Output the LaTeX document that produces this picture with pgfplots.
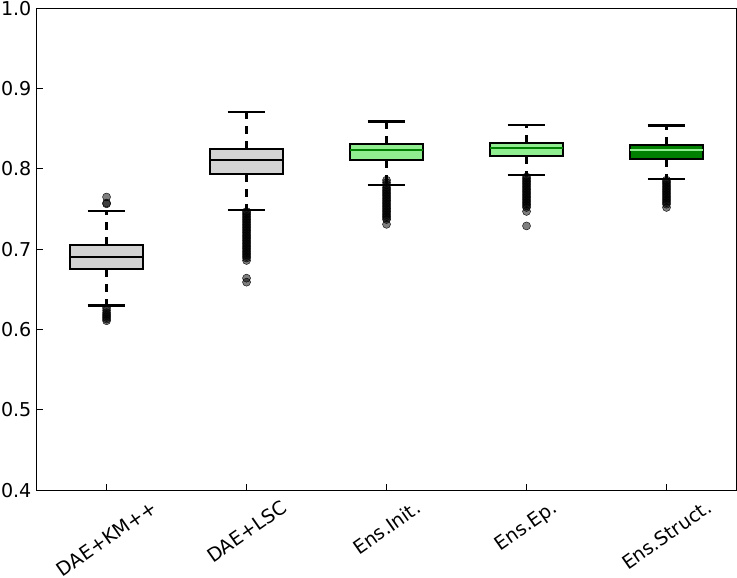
\documentclass[border=0pt]{standalone}
\usepackage{pgfplots}
\pgfplotsset{compat=1.18}
\usepgfplotslibrary{statistics}
\usepackage{graphicx}
\usepackage{fontspec}
\setmainfont{DejaVu Sans}
\definecolor{lgray}{RGB}{211,211,211}
\definecolor{lgreen}{RGB}{144,238,144}
\definecolor{dgreen}{RGB}{0,128,0}

\pgfplotsset{
  mybox/.style 2 args={
    boxplot/draw direction=y,
    boxplot/every box/.style={line width=2.2pt, fill=#1},
    boxplot/every median/.style={line width=2.2pt, #2},
    boxplot/draw/lower whisker/.code={%
      \draw[line width=2.2pt, dash pattern=on 8pt off 7pt]
        (boxplot cs:\pgfplotsboxplotvalue{lower quartile}) --
        (boxplot cs:\pgfplotsboxplotvalue{lower whisker});
      \draw[line width=2.2pt]
        (boxplot whisker cs:\pgfplotsboxplotvalue{lower whisker},0) --
        (boxplot whisker cs:\pgfplotsboxplotvalue{lower whisker},1);},
    boxplot/draw/upper whisker/.code={%
      \draw[line width=2.2pt, dash pattern=on 8pt off 7pt]
        (boxplot cs:\pgfplotsboxplotvalue{upper quartile}) --
        (boxplot cs:\pgfplotsboxplotvalue{upper whisker});
      \draw[line width=2.2pt]
        (boxplot whisker cs:\pgfplotsboxplotvalue{upper whisker},0) --
        (boxplot whisker cs:\pgfplotsboxplotvalue{upper whisker},1);},
    black, solid, mark=*, mark size=4pt,
    mark options={draw=none, fill=black, fill opacity=0.5},
    boxplot/box extend=0.52,
    boxplot/whisker extend=0.27,
  },
}

\begin{document}
\fontsize{19}{23}\selectfont
\begin{tikzpicture}
\begin{axis}[
  scale only axis, width=697pt, height=480pt,
  xmin=0.5, xmax=5.5, ymin=0.4, ymax=1.0,
  boxplot/draw direction=y,
  xtick={1,2,3,4,5},
  xticklabels={\rotatebox{35}{DAE+KM++}, \rotatebox{35}{DAE+LSC},
    \rotatebox{35}{Ens.Init.}, \rotatebox{35}{Ens.Ep.},
    \rotatebox{35}{Ens.Struct.}},
  xticklabel style={anchor=north, inner sep=0pt, yshift=-9pt},
  ytick={0.4,0.5,...,1.0},
  yticklabel style={/pgf/number format/.cd, fixed, fixed zerofill, precision=1,
    /tikz/.cd, inner sep=1pt, xshift=-4pt},
  /pgf/number format/assume math mode=true,
  tick align=inside, tick pos=left,
  major tick length=6pt,
  axis line style={line width=1pt},
  tick style={black, line width=0.8pt},
  clip=false,
]
% DAE+KM++
\addplot[mybox={lgray}{black},
  boxplot prepared={draw position=1, lower whisker=0.630, lower quartile=0.675,
    median=0.690, upper quartile=0.705, upper whisker=0.7475}]
  table[row sep=\\, y index=0] {v\\ 0.765\\ 0.7575\\ 0.7565\\ 0.627\\ 0.624\\
    0.621\\ 0.619\\ 0.617\\ 0.615\\ 0.613\\ 0.611\\};
% DAE+LSC
\addplot[mybox={lgray}{black},
  boxplot prepared={draw position=2, lower whisker=0.749, lower quartile=0.794,
    median=0.811, upper quartile=0.825, upper whisker=0.871}]
  table[row sep=\\, y index=0] {v\\ 0.747\\ 0.745\\ 0.743\\ 0.741\\ 0.739\\
    0.737\\ 0.735\\ 0.733\\ 0.731\\ 0.729\\ 0.727\\ 0.725\\ 0.723\\ 0.721\\
    0.719\\ 0.717\\ 0.715\\ 0.713\\ 0.711\\ 0.709\\ 0.707\\ 0.705\\ 0.703\\
    0.701\\ 0.699\\ 0.697\\ 0.695\\ 0.693\\ 0.691\\ 0.689\\ 0.686\\ 0.664\\
    0.659\\};
% Ens.Init.
\addplot[mybox={lgreen}{dgreen},
  boxplot prepared={draw position=3, lower whisker=0.780, lower quartile=0.811,
    median=0.824, upper quartile=0.831, upper whisker=0.859}]
  table[row sep=\\, y index=0] {v\\ 0.786\\ 0.783\\ 0.780\\ 0.777\\ 0.775\\
    0.773\\ 0.771\\ 0.769\\ 0.767\\ 0.765\\ 0.763\\ 0.761\\ 0.759\\ 0.757\\
    0.755\\ 0.753\\ 0.751\\ 0.749\\ 0.747\\ 0.745\\ 0.743\\ 0.741\\ 0.739\\
    0.737\\ 0.731\\};
% Ens.Ep.
\addplot[mybox={lgreen}{dgreen},
  boxplot prepared={draw position=4, lower whisker=0.7925, lower quartile=0.816,
    median=0.826, upper quartile=0.8325, upper whisker=0.855}]
  table[row sep=\\, y index=0] {v\\ 0.790\\ 0.788\\ 0.786\\ 0.784\\ 0.782\\
    0.780\\ 0.778\\ 0.776\\ 0.774\\ 0.772\\ 0.770\\ 0.768\\ 0.766\\ 0.764\\
    0.762\\ 0.760\\ 0.758\\ 0.756\\ 0.754\\ 0.752\\ 0.747\\ 0.729\\};
% Ens.Struct.
\addplot[mybox={dgreen}{lgreen},
  boxplot prepared={draw position=5, lower whisker=0.7875, lower quartile=0.8125,
    median=0.824, upper quartile=0.830, upper whisker=0.854}]
  table[row sep=\\, y index=0] {v\\ 0.786\\ 0.784\\ 0.782\\ 0.780\\ 0.778\\
    0.776\\ 0.774\\ 0.772\\ 0.770\\ 0.768\\ 0.766\\ 0.764\\ 0.762\\ 0.760\\
    0.758\\ 0.756\\ 0.752\\};
\end{axis}
\end{tikzpicture}
\end{document}
